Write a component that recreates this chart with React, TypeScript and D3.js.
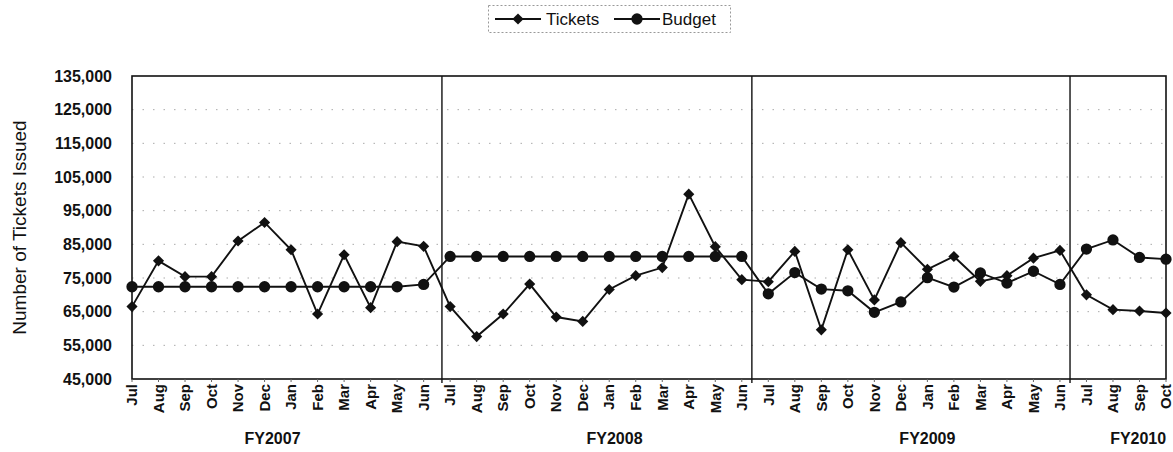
import { useEffect, useRef } from 'react';
import * as d3 from 'd3';

const months = [
    'Jul', 'Aug', 'Sep', 'Oct', 'Nov', 'Dec', 'Jan', 'Feb', 'Mar', 'Apr', 'May', 'Jun',
    'Jul', 'Aug', 'Sep', 'Oct', 'Nov', 'Dec', 'Jan', 'Feb', 'Mar', 'Apr', 'May', 'Jun',
    'Jul', 'Aug', 'Sep', 'Oct', 'Nov', 'Dec', 'Jan', 'Feb', 'Mar', 'Apr', 'May', 'Jun',
    'Jul', 'Aug', 'Sep', 'Oct',
];

const tickets = [
    66500, 80100, 75400, 75400, 86000, 91500, 83400, 64300, 81900, 66200, 85800, 84400,
    66500, 57600, 64300, 73200, 63400, 62100, 71600, 75700, 78100, 99900, 84300, 74500,
    73900, 82900, 59600, 83400, 68500, 85500, 77600, 81400, 74000, 75700, 80900, 83200,
    70000, 65600, 65200, 64600,
];

const budget = [
    72400, 72400, 72400, 72400, 72400, 72400, 72400, 72400, 72400, 72400, 72400, 73100,
    81400, 81400, 81400, 81400, 81400, 81400, 81400, 81400, 81400, 81400, 81400, 81400,
    70300, 76600, 71700, 71200, 64800, 67900, 75100, 72300, 76500, 73500, 77000, 73100,
    83600, 86300, 81100, 80600,
];

const yTicks = [45000, 55000, 65000, 75000, 85000, 95000, 105000, 115000, 125000, 135000];

// fiscal year labels and where they sit, in month-index units
const fyNames = ['FY2007', 'FY2008', 'FY2009', 'FY2010'];
const fyLabelAt = [5.3, 18.2, 30.0, 37.95];
// year dividers, in month-index units
const dividerAt = [11.69, 23.38, 35.38];

const W = 1173;
const H = 452;
const margin = { top: 76, right: 7, bottom: 73, left: 132 };
const FONT = '"Liberation Sans", Arial, sans-serif';

export default function App() {
    const svgRef = useRef<SVGSVGElement | null>(null);

    useEffect(() => {
        if (!svgRef.current) {
            return;
        }
        const svg = d3.select(svgRef.current);
        svg.selectAll('*').remove();

        const x = d3
            .scaleLinear()
            .domain([0, months.length - 1])
            .range([margin.left, W - margin.right]);
        const y = d3
            .scaleLinear()
            .domain([45000, 135000])
            .range([H - margin.bottom, margin.top]);

        const x0 = margin.left;
        const x1 = W - margin.right;
        const yTop = margin.top;
        const yBot = H - margin.bottom;

        // sparse dotted gridlines, as in the scan
        svg.append('g')
            .selectAll('line')
            .data(yTicks.slice(1, -1))
            .join('line')
            .attr('x1', x0)
            .attr('x2', x1)
            .attr('y1', (d) => y(d))
            .attr('y2', (d) => y(d))
            .attr('stroke', '#aaa')
            .attr('stroke-width', 1)
            .attr('stroke-dasharray', '1.5 9');

        // y tick labels
        svg.append('g')
            .selectAll('text')
            .data(yTicks)
            .join('text')
            .attr('x', 112)
            .attr('y', (d) => y(d))
            .attr('dy', '0.35em')
            .attr('text-anchor', 'end')
            .attr('font-family', FONT)
            .attr('font-weight', 700)
            .attr('font-size', 16)
            .attr('fill', '#111')
            .text((d) => d3.format(',')(d));

        // y title
        svg.append('text')
            .attr('transform', `translate(19, ${(yTop + yBot) / 2}) rotate(-90)`)
            .attr('text-anchor', 'middle')
            .attr('dy', '0.35em')
            .attr('font-family', FONT)
            .attr('font-size', 19)
            .attr('fill', '#111')
            .text('Number of Tickets Issued');

        // plot frame
        svg.append('rect')
            .attr('x', x0)
            .attr('y', yTop)
            .attr('width', x1 - x0)
            .attr('height', yBot - yTop)
            .attr('fill', 'none')
            .attr('stroke', '#111')
            .attr('stroke-width', 1.6);

        // x ticks
        svg.append('g')
            .selectAll('line')
            .data(months.map((_, i) => i))
            .join('line')
            .attr('x1', (i) => x(i))
            .attr('x2', (i) => x(i))
            .attr('y1', yBot)
            .attr('y2', yBot + 3)
            .attr('stroke', '#666')
            .attr('stroke-width', 1);

        // year dividers
        svg.append('g')
            .selectAll('line')
            .data(dividerAt)
            .join('line')
            .attr('x1', (d) => x(d))
            .attr('x2', (d) => x(d))
            .attr('y1', yTop)
            .attr('y2', yBot + 4)
            .attr('stroke', '#111')
            .attr('stroke-width', 1.4);

        // month labels
        svg.append('g')
            .selectAll('text')
            .data(months)
            .join('text')
            .attr('transform', (_, i) => `translate(${x(i)}, ${yBot + 5}) rotate(-90)`)
            .attr('text-anchor', 'end')
            .attr('dy', '0.35em')
            .attr('font-family', FONT)
            .attr('font-weight', 700)
            .attr('font-size', 15)
            .attr('fill', '#111')
            .text((d) => d);

        // fiscal year labels
        svg.append('g')
            .selectAll('text')
            .data(fyNames)
            .join('text')
            .attr('x', (_, i) => x(fyLabelAt[i]))
            .attr('y', 438)
            .attr('dy', '0.35em')
            .attr('text-anchor', 'middle')
            .attr('font-family', FONT)
            .attr('font-weight', 700)
            .attr('font-size', 16)
            .attr('fill', '#111')
            .text((d) => d);

        const line = d3
            .line<number>()
            .x((_, i) => x(i))
            .y((d) => y(d));

        const diamond = d3.symbol().type(d3.symbolSquare).size(62);
        const circle = d3.symbol().type(d3.symbolCircle).size(100);

        const series = [
            { values: budget, shape: circle, rot: 0 },
            { values: tickets, shape: diamond, rot: 45 },
        ];

        series.forEach((s) => {
            svg.append('path')
                .datum(s.values)
                .attr('d', line)
                .attr('fill', 'none')
                .attr('stroke', '#111')
                .attr('stroke-width', 1.9);
            svg.append('g')
                .selectAll('path')
                .data(s.values)
                .join('path')
                .attr('d', s.shape() as string)
                .attr('transform', (d, i) => `translate(${x(i)}, ${y(d)}) rotate(${s.rot})`)
                .attr('fill', '#111');
        });

        // legend
        const lg = svg.append('g');
        lg.append('rect')
            .attr('x', 488.5)
            .attr('y', 5.5)
            .attr('width', 242)
            .attr('height', 27)
            .attr('fill', 'none')
            .attr('stroke', '#999')
            .attr('stroke-dasharray', '2 2');
        const legendItems = [
            { name: 'Tickets', shape: diamond, rot: 45, lx: 495, tx: 546 },
            { name: 'Budget', shape: circle, rot: 0, lx: 614, tx: 662 },
        ];
        legendItems.forEach((item) => {
            lg.append('line')
                .attr('x1', item.lx)
                .attr('x2', item.lx + 46)
                .attr('y1', 19)
                .attr('y2', 19)
                .attr('stroke', '#111')
                .attr('stroke-width', 1.9);
            lg.append('path')
                .attr('d', item.shape() as string)
                .attr('transform', `translate(${item.lx + 23}, 19) rotate(${item.rot})`)
                .attr('fill', '#111');
            lg.append('text')
                .attr('x', item.tx)
                .attr('y', 19)
                .attr('dy', '0.35em')
                .attr('font-family', FONT)
                .attr('font-size', 17)
                .attr('fill', '#111')
                .text(item.name);
        });
    }, []);

    return (
        <svg
            ref={svgRef}
            width={W}
            height={H}
            style={{ position: 'absolute', left: 0, top: 0, background: '#fff' }}
        />
    );
}
